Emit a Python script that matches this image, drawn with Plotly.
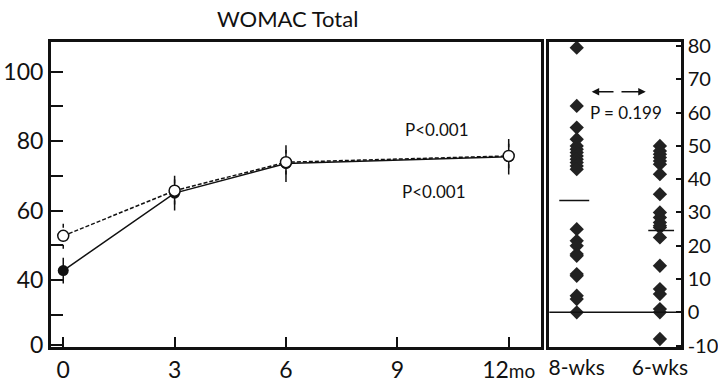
import plotly.graph_objects as go

# ---------------- data ----------------
months = [0, 3, 6, 12]
filled_mean = [42.7, 65.0, 73.5, 75.5]
filled_err = [3.7, 5.0, 5.3, 5.1]
open_mean = [52.7, 65.7, 73.9, 75.7]
open_err = [3.7, 4.0, 3.5, 3.5]

x_tick_vals = [0, 3, 6, 9, 12]
x_tick_text = ["0", "3", "6", "9", "12<span style='font-size:19px'>mo</span>"]
y_tick_vals = [21.2, 30, 40, 50, 60, 70, 80, 90, 100]
y_tick_text = ["0", "", "40", "", "60", "", "80", "", "100"]

groups = ["8-wks", "6-wks"]
y2_tick_vals = [-10, 0, 10, 20, 30, 40, 50, 60, 70, 80]
y2_tick_text = ["-10", "0", "10", "20", "30", "40", "50", "60", "70", "80"]
wk8 = [79.5, 62, 55.5, 52, 50, 49, 48, 47, 46, 45, 44, 43,
       25, 21.5, 20, 17.5, 17, 11.5, 11, 5, 4, 0]
wk6 = [50, 48.5, 47.5, 46.5, 45.5, 44.5, 41.5, 35.5, 30, 28.5, 27, 26,
       25.5, 22.5, 14, 7, 5.5, 1, 0, -8]
group_means = [33.6, 24.6]

FONT = "Lato"
INK = "#111111"


def err_segments(xs, means, errs):
    sx, sy = [], []
    for x, m, e in zip(xs, means, errs):
        sx += [x, x, None]
        sy += [m - e, m + e, None]
    return sx, sy


fig = go.Figure()

# error bars
ex, ey = err_segments(months, filled_mean, filled_err)
fig.add_trace(go.Scatter(x=ex, y=ey, mode="lines",
                         line=dict(color=INK, width=1.5),
                         hoverinfo="skip", showlegend=False))
ex, ey = err_segments(months, open_mean, open_err)
fig.add_trace(go.Scatter(x=ex, y=ey, mode="lines",
                         line=dict(color=INK, width=1.5, dash="4px,3px"),
                         hoverinfo="skip", showlegend=False))

# series
fig.add_trace(go.Scatter(x=months, y=filled_mean, mode="lines+markers",
                         line=dict(color=INK, width=1.5),
                         marker=dict(symbol="circle", size=11, color=INK),
                         showlegend=False))
fig.add_trace(go.Scatter(x=months, y=open_mean, mode="lines+markers",
                         line=dict(color=INK, width=1.5, dash="4px,2px"),
                         marker=dict(symbol="circle", size=11, color="white",
                                     line=dict(color=INK, width=1.5)),
                         showlegend=False))

# right panel: individual points
fig.add_trace(go.Scatter(x=[0] * len(wk8), y=wk8, mode="markers",
                         marker=dict(symbol="diamond", size=11, color="#222222"),
                         xaxis="x2", yaxis="y2", showlegend=False))
fig.add_trace(go.Scatter(x=[1] * len(wk6), y=wk6, mode="markers",
                         marker=dict(symbol="diamond", size=11, color="#222222"),
                         xaxis="x2", yaxis="y2", showlegend=False))

# mean lines
mean_extent = [(-0.21, 0.15), (0.86, 1.17)]
for (a, b), m in zip(mean_extent, group_means):
    fig.add_shape(type="line", xref="x2", yref="y2", x0=a, x1=b, y0=m, y1=m,
                  line=dict(color=INK, width=1.5))

# zero line
fig.add_shape(type="line", xref="x2 domain", yref="y2", x0=0, x1=1, y0=0, y1=0,
              line=dict(color=INK, width=1.5))

# arrows
fig.add_annotation(x=0.18, y=66.3, ax=0.46, ay=66.3, xref="x2", yref="y2",
                   axref="x2", ayref="y2", text="", showarrow=True,
                   arrowhead=2, arrowsize=1, arrowwidth=1.5, arrowcolor=INK)
fig.add_annotation(x=0.83, y=66.3, ax=0.52, ay=66.3, xref="x2", yref="y2",
                   axref="x2", ayref="y2", text="", showarrow=True,
                   arrowhead=2, arrowsize=1, arrowwidth=1.5, arrowcolor=INK)
fig.add_annotation(x=0.59, y=60.1, xref="x2", yref="y2", text="P = 0.199",
                   showarrow=False, font=dict(family=FONT, size=17, color=INK))

# p-values
fig.add_annotation(x=10.07, y=83.2, xref="x", yref="y", text="P<0.001",
                   showarrow=False, font=dict(family=FONT, size=17, color=INK))
fig.add_annotation(x=9.99, y=65.6, xref="x", yref="y", text="P<0.001",
                   showarrow=False, font=dict(family=FONT, size=17, color=INK))

# title
fig.add_annotation(x=287 / 718, y=1 - 18 / 384, xref="paper", yref="paper",
                   xanchor="center", yanchor="middle",
                   text="WOMAC Total", showarrow=False,
                   font=dict(family=FONT, size=22, color=INK))

axis_common = dict(showgrid=False, zeroline=False, showline=True, mirror=True,
                   linecolor=INK, linewidth=3, automargin=False)

fig.update_layout(
    template="none",
    width=718, height=384,
    margin=dict(l=0, r=0, t=0, b=0, pad=0),
    paper_bgcolor="white", plot_bgcolor="white",
    font=dict(family=FONT, color=INK),
    xaxis=dict(domain=[51 / 718, 541 / 718], range=[-0.33, 12.87],
               tickmode="array", tickvals=x_tick_vals, ticktext=x_tick_text,
               ticks="inside", ticklen=10, tickwidth=2, tickcolor=INK,
               tickfont=dict(family=FONT, size=23, color=INK),
               anchor="y", **axis_common),
    yaxis=dict(domain=[1 - 347 / 384, 1 - 41.7 / 384], range=[20.7, 108.6],
               tickmode="array", tickvals=y_tick_vals, ticktext=y_tick_text,
               ticks="inside", ticklen=12, tickwidth=2, tickcolor=INK,
               tickfont=dict(family=FONT, size=23, color=INK),
               anchor="x", **axis_common),
    xaxis2=dict(domain=[549.3 / 718, 680.7 / 718], range=[-0.33, 1.25],
                tickmode="array", tickvals=[0, 1], ticktext=groups,
                ticks="", tickfont=dict(family=FONT, size=21, color=INK),
                anchor="y2", **axis_common),
    yaxis2=dict(domain=[1 - 347 / 384, 1 - 41.7 / 384], range=[-10.4, 81.3],
                side="right", tickmode="array", tickvals=y2_tick_vals,
                ticktext=y2_tick_text,
                ticks="inside", ticklen=5, tickwidth=2, tickcolor=INK,
                tickfont=dict(family=FONT, size=20, color=INK),
                anchor="x2", **axis_common),
)

fig.write_html("out.html")
